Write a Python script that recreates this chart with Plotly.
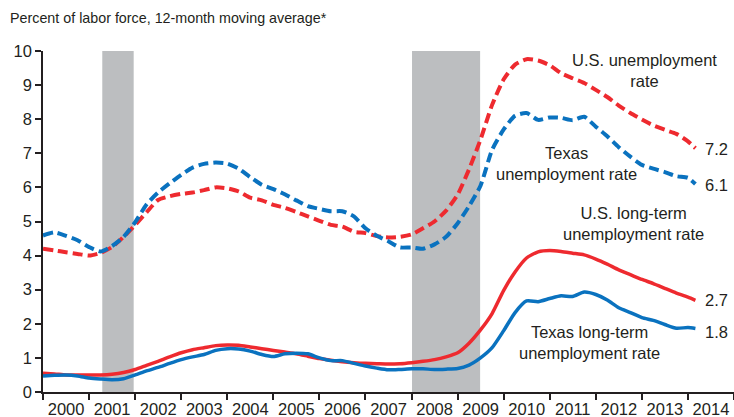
import pandas as pd
import plotly.graph_objects as go

# Quarterly time index (12-month moving averages), last point March 2014
dates = list(pd.date_range("2000-01-01", "2014-01-01", freq="QS").strftime("%Y-%m-%d")) + ["2014-03-01"]

us_rate = [4.20, 4.15, 4.10, 4.05, 4.00, 4.08, 4.25, 4.55, 4.90, 5.27, 5.63, 5.74,
           5.81, 5.85, 5.92, 6.00, 5.97, 5.88, 5.70, 5.62, 5.49, 5.40, 5.28, 5.15,
           5.02, 4.90, 4.85, 4.70, 4.66, 4.57, 4.53, 4.55, 4.62, 4.80, 5.00, 5.32,
           5.79, 6.53, 7.40, 8.42, 9.17, 9.60, 9.76, 9.72, 9.58, 9.35, 9.20, 9.06,
           8.86, 8.65, 8.40, 8.18, 7.99, 7.82, 7.69, 7.57, 7.35, 7.15]

tx_rate = [4.59, 4.68, 4.58, 4.45, 4.25, 4.12, 4.28, 4.55, 4.98, 5.50, 5.85, 6.12,
           6.37, 6.58, 6.69, 6.73, 6.70, 6.55, 6.30, 6.08, 5.95, 5.80, 5.62, 5.45,
           5.37, 5.30, 5.30, 5.15, 4.80, 4.58, 4.42, 4.24, 4.24, 4.20, 4.33, 4.55,
           4.95, 5.45, 6.05, 7.10, 7.70, 8.10, 8.18, 7.98, 8.05, 8.04, 7.97, 8.07,
           7.78, 7.50, 7.18, 6.90, 6.66, 6.55, 6.45, 6.33, 6.28, 6.10]

us_lt = [0.55, 0.53, 0.50, 0.50, 0.50, 0.50, 0.52, 0.57, 0.66, 0.78, 0.90, 1.03,
         1.15, 1.24, 1.30, 1.36, 1.38, 1.37, 1.32, 1.27, 1.22, 1.17, 1.12, 1.05,
         0.98, 0.93, 0.89, 0.86, 0.84, 0.83, 0.82, 0.83, 0.86, 0.90, 0.95, 1.03,
         1.15, 1.43, 1.82, 2.30, 2.98, 3.52, 3.93, 4.11, 4.15, 4.12, 4.07, 4.02,
         3.90, 3.75, 3.58, 3.44, 3.30, 3.18, 3.04, 2.90, 2.78, 2.69]

tx_lt = [0.47, 0.49, 0.50, 0.47, 0.41, 0.38, 0.36, 0.39, 0.50, 0.62, 0.72, 0.84,
         0.95, 1.03, 1.10, 1.22, 1.27, 1.26, 1.20, 1.10, 1.04, 1.12, 1.14, 1.12,
         1.00, 0.92, 0.92, 0.84, 0.76, 0.70, 0.65, 0.66, 0.68, 0.68, 0.66, 0.67,
         0.69, 0.79, 1.00, 1.30, 1.80, 2.33, 2.67, 2.65, 2.74, 2.82, 2.80, 2.93,
         2.86, 2.70, 2.47, 2.33, 2.18, 2.10, 1.98, 1.87, 1.89, 1.86]

recession_start = ["2001-04-15", "2008-01-05"]
recession_end = ["2001-12-20", "2009-06-28"]

end_labels = ["7.2", "6.1", "2.7", "1.8"]
end_label_y = [7.13, 6.06, 2.69, 1.76]

RED = "#EE2A2F"
BLUE = "#0A72BF"
GRAY = "#BCBEC0"
TXT = "#231F20"
FONT = "Liberation Sans, Arial, sans-serif"
FS = 16.5

fig = go.Figure()

for s, e in zip(recession_start, recession_end):
    fig.add_shape(type="rect", xref="x", yref="y", x0=s, x1=e, y0=0, y1=10,
                  fillcolor=GRAY, line_width=0, layer="below")

fig.add_trace(go.Scatter(x=dates, y=us_lt, mode="lines",
                         line=dict(color=RED, width=3.5, shape="spline", smoothing=0.6)))
fig.add_trace(go.Scatter(x=dates, y=tx_lt, mode="lines",
                         line=dict(color=BLUE, width=3.5, shape="spline", smoothing=0.6)))
fig.add_trace(go.Scatter(x=dates, y=us_rate, mode="lines",
                         line=dict(color=RED, width=4, dash="10px,5px", shape="spline", smoothing=0.6)))
fig.add_trace(go.Scatter(x=dates, y=tx_rate, mode="lines",
                         line=dict(color=BLUE, width=4, dash="10px,5px", shape="spline", smoothing=0.6)))

labels = [
    ("U.S. unemployment<br>rate", "2013-01-22", 9.43),
    ("Texas<br>unemployment rate", "2011-05-10", 6.71),
    ("U.S. long-term<br>unemployment rate", "2012-10-27", 4.94),
    ("Texas long-term<br>unemployment rate", "2011-11-13", 1.45),
]
for txt, x, y in labels:
    fig.add_annotation(text=txt, x=x, y=y, xref="x", yref="y", showarrow=False,
                       xanchor="center", yanchor="middle", align="center",
                       font=dict(family=FONT, size=FS, color=TXT))

for txt, y in zip(end_labels, end_label_y):
    fig.add_annotation(text=txt, x="2014-05-08", y=y, xref="x", yref="y", showarrow=False,
                       xanchor="left", yanchor="middle", borderpad=0,
                       font=dict(family=FONT, size=FS, color=TXT))

fig.add_annotation(text="Percent of labor force, 12-month moving average*",
                   xref="paper", yref="paper", x=-0.051, y=1.098, showarrow=False,
                   xanchor="left", yanchor="middle",
                   font=dict(family=FONT, size=14.3, color=TXT))

fig.update_layout(
    width=734, height=417,
    margin=dict(l=43.3, r=0, t=50.5, b=25),
    paper_bgcolor="white", plot_bgcolor="white",
    showlegend=False,
    font=dict(family=FONT, size=FS, color=TXT),
)
fig.update_xaxes(type="date", range=["2000-01-01", "2015-01-01"], automargin=False,
                 dtick="M12", tick0="2000-01-01", tickformat="%Y", ticklabelmode="period",
                 ticklabelstandoff=-5,
                 showgrid=False, zeroline=False, showline=True, linecolor=TXT, linewidth=1.5,
                 ticks="outside", ticklen=6, tickwidth=1.5, tickcolor=TXT,
                 tickfont=dict(family=FONT, size=FS, color=TXT))
fig.update_yaxes(range=[0, 10], tickvals=list(range(0, 11)), automargin=False,
                 showgrid=False, zeroline=False, showline=True, linecolor=TXT, linewidth=1.5,
                 ticks="outside", ticklen=6, tickwidth=1.5, tickcolor=TXT,
                 tickfont=dict(family=FONT, size=FS, color=TXT))

# remove the default page margin so the 734x417 figure fills the window exactly
fig.write_html("out.html", config=dict(displayModeBar=False),
               post_script="document.body.style.margin='0';document.body.style.overflow='hidden';")
